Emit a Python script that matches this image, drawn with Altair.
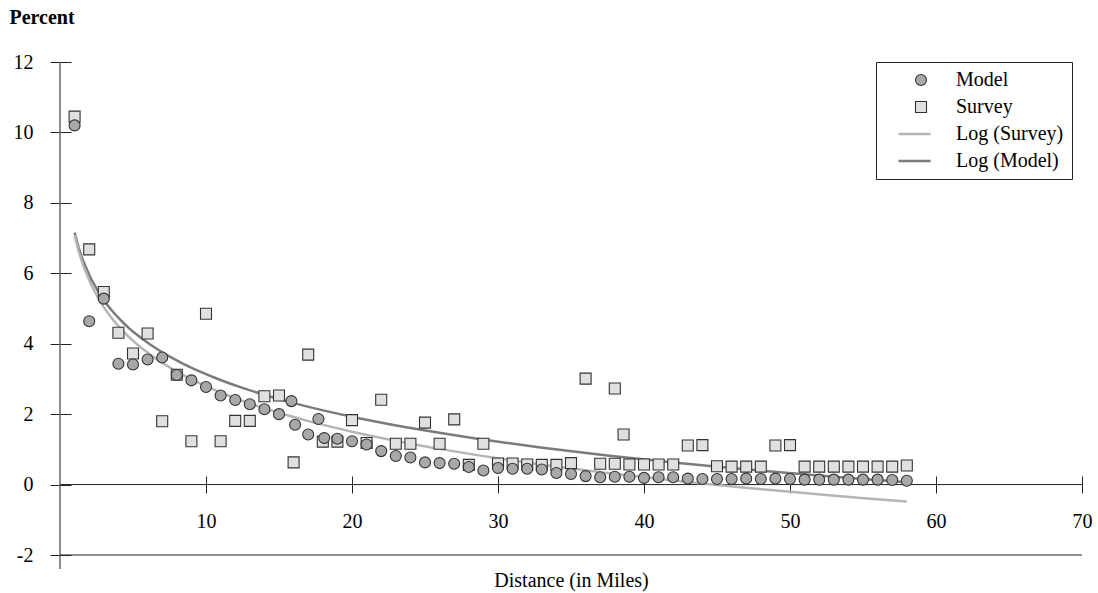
import altair as alt
import pandas as pd

# ---- data ----
model_x = [1, 2, 3, 4, 5, 6, 7, 8, 9, 10, 11, 12, 13, 14, 15, 15.85, 16.1, 17, 17.7, 18.1,
           19, 20, 21, 22, 23, 24, 25, 26, 27, 28, 29, 30, 31, 32, 33, 34, 35, 36, 37, 38,
           39, 40, 41, 42, 43, 44, 45, 46, 47, 48, 49, 50, 51, 52, 53, 54, 55, 56, 57, 58]
model_y = [10.2, 4.64, 5.28, 3.43, 3.41, 3.55, 3.61, 3.11, 2.96, 2.77,
           2.53, 2.40, 2.28, 2.14, 2.00, 2.37, 1.70, 1.42, 1.86, 1.32,
           1.30, 1.23, 1.14, 0.95, 0.81, 0.77, 0.63, 0.61, 0.59, 0.50,
           0.40, 0.47, 0.45, 0.45, 0.43, 0.33, 0.30, 0.24, 0.21, 0.22,
           0.22, 0.19, 0.21, 0.21, 0.17, 0.16, 0.16, 0.16, 0.17, 0.16,
           0.17, 0.16, 0.14, 0.14, 0.14, 0.14, 0.14, 0.14, 0.13, 0.11]

survey_x = [1, 2, 3, 4, 5, 6, 7, 8, 9, 10, 11, 12, 13, 14, 15, 16, 17, 18, 19, 20,
            21, 22, 23, 24, 25, 26, 27, 28, 29, 30, 31, 32, 33, 34, 35, 36, 37, 38, 38, 38.6,
            39, 40, 41, 42, 43, 44, 45, 46, 47, 48, 49, 50, 51, 52, 53, 54, 55, 56, 57, 58]
survey_y = [10.45, 6.68, 5.47, 4.31, 3.72, 4.29, 1.80, 3.12, 1.23, 4.85,
            1.23, 1.81, 1.81, 2.51, 2.53, 0.63, 3.69, 1.22, 1.22, 1.83,
            1.18, 2.41, 1.16, 1.16, 1.76, 1.16, 1.85, 0.56, 1.16, 0.60,
            0.60, 0.57, 0.56, 0.56, 0.61, 3.01, 0.59, 2.73, 0.59, 1.42,
            0.57, 0.57, 0.57, 0.57, 1.11, 1.12, 0.52, 0.51, 0.51, 0.51,
            1.11, 1.12, 0.51, 0.51, 0.51, 0.51, 0.51, 0.51, 0.51, 0.54]

series_names = ["Model", "Survey", "Log (Survey)", "Log (Model)"]
fill_colors = ["#a8a8a8", "#e0e0e0", "#b5b5b5", "#7b7b7b"]
stroke_colors = ["#333333", "#333333", "#b5b5b5", "#7b7b7b"]
line_symbol = "M-4,-0.12H1.64V0.12H-4Z"
shapes = ["circle", "square", line_symbol, line_symbol]

x_ticks = [10, 20, 30, 40, 50, 60, 70]
y_ticks = [-2, 0, 2, 4, 6, 8, 10, 12]

FONT = "Liberation Serif"

df = pd.concat(
    [
        pd.DataFrame({"x": survey_x, "y": survey_y, "series": "Survey"}),
        pd.DataFrame({"x": model_x, "y": model_y, "series": "Model"}),
    ],
    ignore_index=True,
)

xs = alt.Scale(domain=[0, 70], nice=False, zero=False)
ys = alt.Scale(domain=[-2, 12], nice=False, zero=False)

x_enc = alt.X(
    "x:Q", scale=xs,
    axis=alt.Axis(
        values=x_ticks, orient="bottom", offset=-79, domain=False, grid=False,
        tickSize=17, tickColor="#222222", tickWidth=1,
        labelPadding=18, labelFont=FONT, labelFontSize=20, labelColor="black",
        labelFlush=False, labelExpr="'' + datum.value",
        title="Distance (in Miles)", titleFont=FONT, titleFontSize=20,
        titleFontWeight="normal", titleColor="black", titleY=110,
        titleBaseline="alphabetic",
    ),
)
y_enc = alt.Y(
    "y:Q", scale=ys,
    axis=alt.Axis(
        values=y_ticks, orient="left", offset=-11, domain=False, grid=False,
        tickSize=21, tickColor="#222222", tickWidth=1,
        labelPadding=17, labelFont=FONT, labelFontSize=20, labelColor="black",
        labelFlush=False, labelExpr="'' + datum.value",
        title="Percent", titleAngle=0, titleX=-62, titleY=-39, titleAlign="left",
        titleBaseline="alphabetic", titleFont=FONT, titleFontSize=20,
        titleFontWeight="bold", titleColor="black",
    ),
)

legend = alt.Legend(
    title=None, orient="none", legendX=816, legendY=0, padding=8, rowPadding=7,
    strokeColor="#222222", fillColor="white", symbolSize=121, symbolStrokeWidth=1.1,
    symbolOffset=27,
    labelFont=FONT, labelFontSize=20, labelColor="black", labelOffset=25, labelLimit=0,
    labelExpr="datum.label + '\u00a0\u00a0\u00a0\u00a0\u00a0'",
)

base = alt.Chart(df)

y_line = alt.Chart(alt.Data(values=[{"k": 0}])).mark_rule(color="#666666", strokeWidth=1.5).encode(
    x=alt.datum(0), y=alt.value(0), y2=alt.value(507)
)
zero_line = alt.Chart(alt.Data(values=[{"k": 0}])).mark_rule(color="#222222", strokeWidth=1).encode(
    y=alt.datum(0)
)
bottom_line = alt.Chart(alt.Data(values=[{"k": 0}])).mark_rule(color="#222222", strokeWidth=1).encode(
    y=alt.datum(-2)
)

lines = base.transform_regression(
    "x", "y", method="log", groupby=["series"], extent=[1, 58]
).transform_calculate(
    label="datum.series === 'Model' ? 'Log (Survey)' : 'Log (Model)'"
).mark_line(strokeWidth=2.5).encode(
    x=x_enc, y=y_enc,
    color=alt.Color(
        "label:N",
        scale=alt.Scale(domain=["Log (Survey)", "Log (Model)"], range=["#b5b5b5", "#7b7b7b"]),
        legend=None,
    ),
)

points = base.mark_point(filled=True, opacity=1, size=121, strokeWidth=1.1).encode(
    x=x_enc, y=y_enc,
    shape=alt.Shape("series:N", scale=alt.Scale(domain=series_names, range=shapes), legend=legend),
    fill=alt.Fill("series:N", scale=alt.Scale(domain=series_names, range=fill_colors), legend=legend),
    stroke=alt.Stroke("series:N", scale=alt.Scale(domain=series_names, range=stroke_colors), legend=legend),
)

chart = alt.layer(y_line, zero_line, bottom_line, lines, points).properties(
    width=1022, height=493,
    padding={"left": 60, "top": 62, "right": 16, "bottom": 38},
    autosize=alt.AutoSizeParams(type="none"),
    background="white",
).configure_view(stroke=None, strokeWidth=0)

chart.save("out.html", embed_options={"renderer": "svg", "actions": False})
